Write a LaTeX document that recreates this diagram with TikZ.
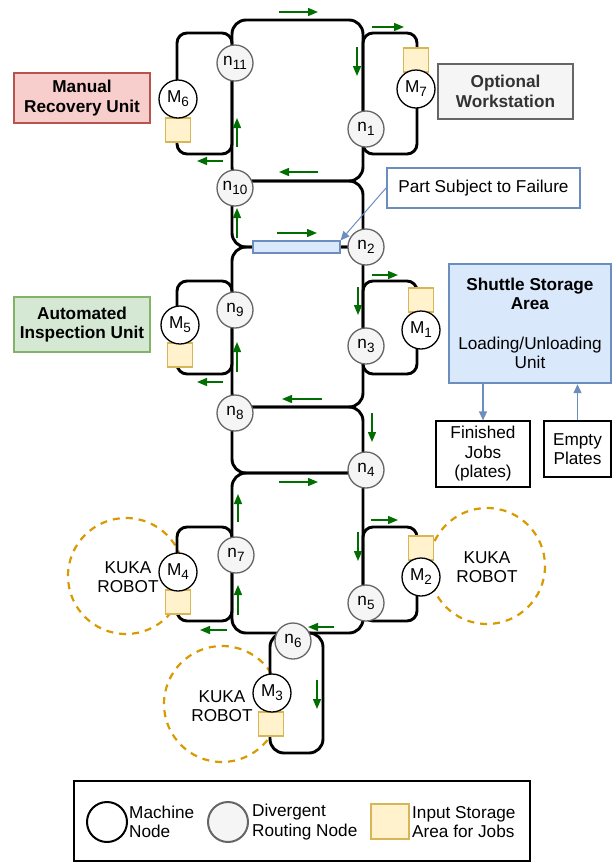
\documentclass[tikz,border=0pt]{standalone}
\usepackage{fontspec}
\setmainfont{Liberation Sans}
\usetikzlibrary{arrows.meta}
\definecolor{grn}{RGB}{0,110,0}
\definecolor{rdraw}{HTML}{666666}
\definecolor{rfill}{HTML}{F5F5F5}
\definecolor{stD}{HTML}{D6B656}
\definecolor{stF}{HTML}{FFF2CC}
\definecolor{robC}{HTML}{D79B00}
\definecolor{bluD}{HTML}{6C8EBF}
\definecolor{bluF}{HTML}{DAE8FC}
\definecolor{redD}{HTML}{B85450}
\definecolor{redF}{HTML}{F8CECC}
\definecolor{grD}{HTML}{82B366}
\definecolor{grF}{HTML}{D5E8D4}
\definecolor{txtG}{HTML}{333333}
\newcommand{\mysubidx}[1]{\raisebox{-4pt}{\fontsize{13.5}{14}\selectfont #1}}
\begin{document}
\begin{tikzpicture}[x=1pt,y=-1pt,font=\fontsize{17.2}{19.5}\selectfont,
  track/.style={line width=2.9pt,rounded corners=14pt},
  sideloop/.style={line width=2.9pt,rounded corners=10pt},
  mnode/.style={circle,draw=black,line width=1.3pt,fill=white,minimum size=38pt,inner sep=0pt},
  rnode/.style={circle,draw=rdraw,line width=1.3pt,fill=rfill,minimum size=36pt,inner sep=0pt},
  store/.style={draw=stD,fill=stF,line width=1.2pt,minimum width=25pt,minimum height=24pt,inner sep=0pt},
  flow/.style={grn,line width=1.4pt,-{Triangle[length=10pt,width=8pt]}},
  robot/.style={draw=robC,dash pattern=on 7pt off 6pt,line width=2.2pt},
  lbox/.style={line width=2pt,align=center,inner sep=0pt},
  blarrow/.style={bluD,line width=1.3pt,-{Triangle[length=9pt,width=8pt]}}]
\useasboundingbox (0,0) rectangle (616,863);

% KUKA robot areas
\draw[robot] (126,576) circle (58);
\draw[robot] (487,566) circle (58);
\draw[robot] (222,704) circle (58);
\node[align=center] (kuka4) at (128,577) {KUKA\\ROBOT};
\node[align=center] (kuka2) at (487,567) {KUKA\\ROBOT};
\node[align=center] (kuka3) at (222,706) {KUKA\\ROBOT};

% main track loops
\draw[track] (232,20) rectangle (363,181);
\draw[track] (232,181) rectangle (363,247);
\draw[track] (232,247) rectangle (363,407);
\draw[track] (232,407) rectangle (363,473);
\draw[track] (232,473) rectangle (363,633);
\draw[track] (270,633) rectangle (323,753);
% side loops
\draw[sideloop] (177,33) rectangle (232,154);
\draw[sideloop] (363,33) rectangle (417,154);
\draw[sideloop] (177,281) rectangle (232,374);
\draw[sideloop] (363,281) rectangle (417,374);
\draw[sideloop] (177,527) rectangle (232,621);
\draw[sideloop] (363,527) rectangle (417,621);

% flow arrows
\foreach \a/\b/\c/\d in {279/12/318/12, 372/27/404/27, 357/47/357/76, 237/147/237/118,
  223/161/197/161, 318/172/279/172, 237/238/237/208, 277/233/317/233,
  372/275/398/275, 358/287/358/315, 237/372/237/342, 223/382/197/382,
  322/399/282/399, 372/413/372/442, 279/482/318/482, 238/522/238/494,
  371/520/398/520, 358/532/358/561, 238/615/238/585, 227/630/200/630,
  334/627/308/627, 317/680/317/709}
  \draw[flow] (\a,\b) -- (\c,\d);

% part subject to failure
\node[draw=bluD,fill=bluF,line width=1.2pt,minimum width=87pt,minimum height=12pt,inner sep=0pt] (bar) at (296.5,247) {};

% storage areas
\node[store] (s6) at (178,130) {};
\node[store] (s7) at (416,60) {};
\node[store] (s5) at (180,355) {};
\node[store] (s1) at (421,300) {};
\node[store] (s4) at (178,602) {};
\node[store] (s2) at (421,548) {};
\node[store] (s3) at (271,724) {};

% machine nodes
\node[mnode] (M6) at (178,99) {M\mysubidx{6}};
\node[mnode] (M7) at (416,89) {M\mysubidx{7}};
\node[mnode] (M5) at (180,325) {M\mysubidx{5}};
\node[mnode] (M1) at (421,330) {M\mysubidx{1}};
\node[mnode] (M4) at (178,572) {M\mysubidx{4}};
\node[mnode] (M2) at (421,577) {M\mysubidx{2}};
\node[mnode] (M3) at (272,693) {M\mysubidx{3}};

% routing nodes
\node[rnode] (n11) at (235,63) {n\mysubidx{11}};
\node[rnode] (n1) at (366,129) {n\mysubidx{1}};
\node[rnode] (n10) at (235,188) {n\mysubidx{10}};
\node[rnode] (n2) at (366,247) {n\mysubidx{2}};
\node[rnode] (n9) at (235,310) {n\mysubidx{9}};
\node[rnode] (n3) at (366,346) {n\mysubidx{3}};
\node[rnode] (n8) at (235,413) {n\mysubidx{8}};
\node[rnode] (n4) at (366,470) {n\mysubidx{4}};
\node[rnode] (n7) at (236,555) {n\mysubidx{7}};
\node[rnode] (n5) at (366,603) {n\mysubidx{5}};
\node[rnode] (n6) at (293,641) {n\mysubidx{6}};

% side labels
\node[lbox,draw=redD,fill=redF,minimum width=136pt,minimum height=50pt,font=\fontsize{17.2}{19.5}\selectfont\bfseries] (mru) at (82,98) {Manual\\Recovery Unit};
\node[lbox,draw=grD,fill=grF,minimum width=136pt,minimum height=55pt,font=\fontsize{17.2}{19.5}\selectfont\bfseries] (aiu) at (82,324.5) {Automated\\Inspection Unit};
\node[lbox,draw=rdraw,fill=rfill,text=txtG,minimum width=135pt,minimum height=55pt,line width=2.2pt,font=\fontsize{17.2}{19.5}\selectfont\bfseries] (ows) at (505.5,91.5) {Optional\\Workstation};

% part callout
\node[lbox,draw=bluD,fill=white,minimum width=193pt,minimum height=40pt] (part) at (483.5,188) {Part Subject to Failure};
\draw[blarrow,line width=1pt] (part.west) -- (bar.north east);

% shuttle storage
\node[lbox,draw=bluD,fill=bluF,line width=2.4pt,minimum width=162pt,minimum height=119pt] (shut) at (530,323.5)
  {\textbf{Shuttle Storage}\\\textbf{Area}\\[20pt]Loading/Unloading\\Unit};
\node[lbox,draw=black,line width=1.2pt,minimum width=94pt,minimum height=66pt] (fin) at (483,454) {Finished\\Jobs\\(plates)};
\node[lbox,draw=black,line width=1.2pt,minimum width=67pt,minimum height=56pt] (emp) at (577.5,449) {Empty\\Plates};
\draw[blarrow] (shut.south -| fin.north) -- (fin.north);
\draw[blarrow] (emp.north) -- (emp.north |- shut.south);

% legend
\node[draw=black,line width=2pt,minimum width=456pt,minimum height=80pt,inner sep=0pt] (legend) at (302,821) {};
\node[circle,draw=black,line width=2pt,fill=white,minimum size=40pt,inner sep=0pt] (lm) at (107,822) {};
\node[anchor=west,align=left,inner sep=0pt] (lmt) at (129,822) {Machine\\Node};
\node[circle,draw=rdraw,line width=2pt,fill=rfill,minimum size=40pt,inner sep=0pt] (lr) at (228,822) {};
\node[anchor=west,align=left,inner sep=0pt] (lrt) at (252,822) {Divergent\\Routing Node};
\node[draw=stD,fill=stF,line width=1.2pt,minimum width=38pt,minimum height=35pt,inner sep=0pt] (ls) at (390,821.5) {};
\node[anchor=west,align=left,inner sep=0pt] (lst) at (412,822) {Input Storage\\Area for Jobs};
\end{tikzpicture}
\end{document}
